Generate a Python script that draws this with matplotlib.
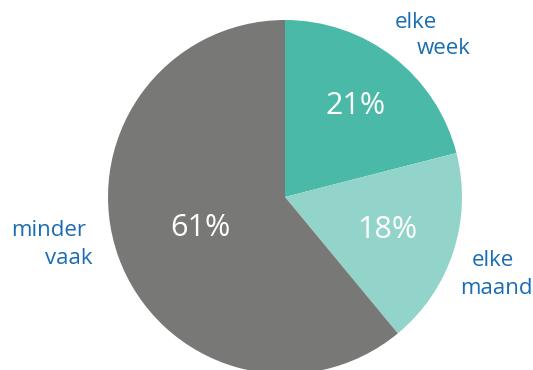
import numpy as np
import matplotlib
matplotlib.use("Agg")
import matplotlib.pyplot as plt

plt.rcParams['font.family'] = ['Open Sans', 'DejaVu Sans']

categories = ["elke week", "elke maand", "minder vaak"]
shares = [21, 18, 61]
colors = ["#4ab9a8", "#92d4ca", "#787876"]
pct_radius = [0.65, 0.61, 0.51]

W, H = 533, 370
fig = plt.figure(figsize=(W / 100, H / 100), dpi=100)
ax = fig.add_axes([0, 0, 1, 1])

cx, cy, r = 285, H - 197, 177
wedges, _ = ax.pie(shares, colors=colors, startangle=90, counterclock=False,
                   center=(cx, cy), radius=r, frame=True,
                   wedgeprops=dict(linewidth=0))
ax.set_xlim(0, W)
ax.set_ylim(0, H)
ax.set_aspect('equal')
ax.axis('off')

for w, val, pr in zip(wedges, shares, pct_radius):
    mid = np.deg2rad((w.theta1 + w.theta2) / 2)
    ax.text(cx + pr * r * np.cos(mid), cy + pr * r * np.sin(mid), f"{val}%",
            ha='center', va='center', color='white', fontsize=22)

blue = "#1a6db4"
label_lines = [
    ("elke", 416, 22), ("week", 444, 49),
    ("elke", 493, 261), ("maand", 496, 288),
    ("minder", 49, 231), ("vaak", 69, 258),
]
for txt, x, y in label_lines:
    ax.text(x, H - y, txt, ha='center', va='center', color=blue, fontsize=16)

fig.savefig("out.png", dpi=100)
